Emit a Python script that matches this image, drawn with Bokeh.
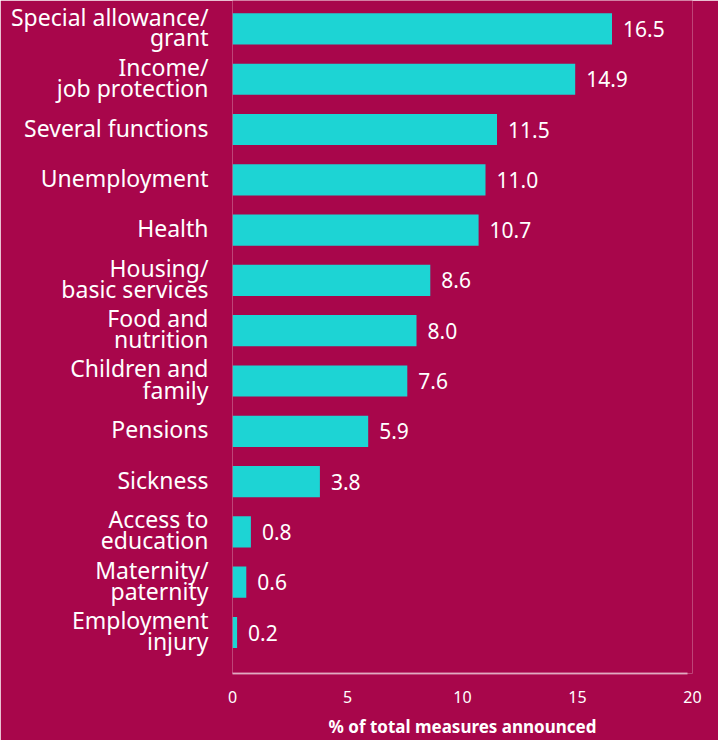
from bokeh.plotting import figure
from bokeh.models import ColumnDataSource, FixedTicker, Range1d
from bokeh.embed import file_html
from bokeh.resources import INLINE
from bokeh.core.properties import value

categories = ["Special allowance/\ngrant", "Income/\njob protection", "Several functions",
              "Unemployment", "Health", "Housing/\nbasic services", "Food and\nnutrition",
              "Children and\nfamily", "Pensions", "Sickness", "Access to\neducation",
              "Maternity/\npaternity", "Employment\ninjury"]
values = [16.5, 14.9, 11.5, 11.0, 10.7, 8.6, 8.0, 7.6, 5.9, 3.8, 0.8, 0.6, 0.2]
x_ticks = [0, 5, 10, 15, 20]

BG = "#A8064B"
BAR = "#1DD4D4"
FONT = "Noto Sans"
HALF = 0.21   # half line spacing (in category units) for two-line labels
SHIFT = 0.04  # small upward nudge of label text

n = len(categories)
ypos = [n - 1 - i for i in range(n)]
src = ColumnDataSource(dict(y=ypos, v=values, lbl=[f"{v:.1f}" for v in values]))

# each label line becomes its own tick on the category axis
ticks, overrides = [], {}
for y, c in zip(ypos, categories):
    parts = c.split("\n")
    if len(parts) == 1:
        t = round(y + SHIFT, 3)
        ticks.append(t)
        overrides[t] = parts[0]
    else:
        t1 = round(y + SHIFT + HALF, 3)
        t2 = round(y + SHIFT - HALF, 3)
        ticks += [t1, t2]
        overrides[t1] = parts[0]
        overrides[t2] = parts[1]

p = figure(width=718, height=740, output_backend="svg", toolbar_location=None,
           x_range=Range1d(0, 20), y_range=Range1d(-0.815, 12.565),
           min_border_left=232, min_border_right=26, min_border_top=0, min_border_bottom=67)
p.background_fill_color = BG
p.border_fill_color = BG
p.outline_line_color = None
p.grid.visible = False

p.hbar(y="y", right="v", left=0, height=0.62, source=src, color=BAR, line_color=None)
p.text(x="v", y="y", text="lbl", source=src, x_offset=11, text_align="left",
       text_baseline="middle", text_color="white", text_font_size="21px",
       text_font=value(FONT))

ya = p.yaxis[0]
ya.ticker = FixedTicker(ticks=ticks)
ya.major_label_overrides = overrides
ya.axis_line_color = None
ya.major_tick_line_color = None
ya.minor_tick_line_color = None
ya.major_label_text_color = "white"
ya.major_label_text_font = FONT
ya.major_label_text_font_size = "23px"
ya.major_label_standoff = 18

xa = p.xaxis[0]
xa.ticker = FixedTicker(ticks=x_ticks)
xa.bounds = (0, 19.8)
xa.axis_line_color = "white"
xa.axis_line_alpha = 0.55
xa.axis_line_width = 2
xa.major_tick_line_color = None
xa.minor_tick_line_color = None
xa.major_label_text_color = "white"
xa.major_label_text_font = FONT
xa.major_label_text_font_size = "16px"
xa.major_label_text_line_height = 1.0
xa.major_label_standoff = 11
xa.axis_label = "% of total measures announced"
xa.axis_label_text_color = "white"
xa.axis_label_text_font = FONT
xa.axis_label_text_font_style = "bold"
xa.axis_label_text_font_size = "17px"
xa.axis_label_text_line_height = 1.0
xa.axis_label_standoff = 9

open("out.html", "w").write(file_html(p, INLINE))
